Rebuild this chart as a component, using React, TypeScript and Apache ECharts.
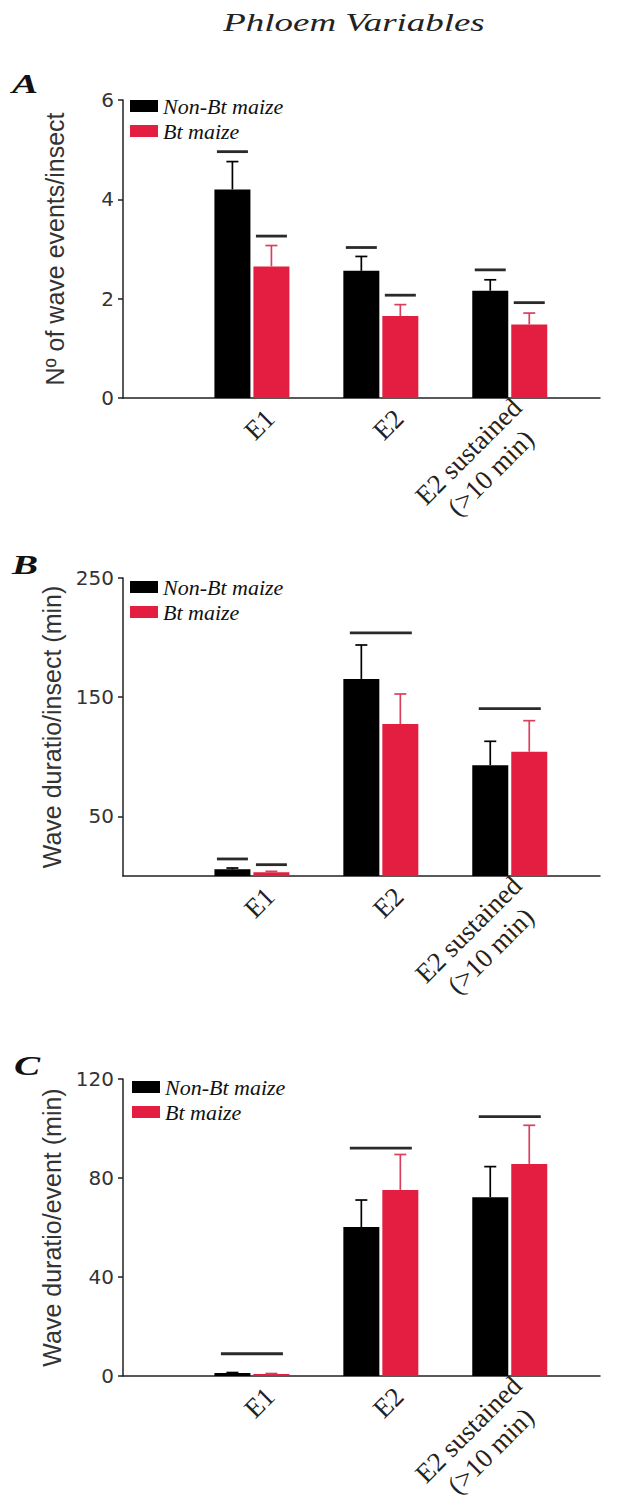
import React, { useEffect, useRef } from 'react';
import * as echarts from 'echarts';

// ---------- data ----------
const categories = ['E1', 'E2', 'E2 sustained\n(>10 min)\u00a0\u00a0'];
const catPositions = [1, 2, 3];
const seriesNames = ['Non-Bt maize', 'Bt maize'];

// Panel A: Nº of wave events/insect
const eventsNonBt = [4.2, 2.56, 2.16];
const eventsNonBtErr = [4.76, 2.85, 2.38];
const eventsBt = [2.65, 1.65, 1.48];
const eventsBtErr = [3.07, 1.88, 1.71];
// [category position, y, which: 0 non-Bt, 1 Bt, 2 both]
const eventsSig = [[1, 4.96, 0], [1, 3.26, 1], [2, 3.03, 0], [2, 2.07, 1], [3, 2.58, 0], [3, 1.92, 1]];
const eventsTicks = [0, 2, 4, 6];

// Panel B: Wave duratio/insect (min)
const durInsNonBt = [5.6, 165.3, 92.9];
const durInsNonBtErr = [6.7, 193.8, 113.0];
const durInsBt = [3.1, 127.5, 104.3];
const durInsBtErr = [3.9, 152.7, 130.3];
const durInsSig = [[1, 14.3, 0], [1, 9.5, 1], [2, 203.9, 2], [3, 140.4, 2]];
const durInsTicks = [50, 150, 250];

// Panel C: Wave duratio/event (min)
const durEvNonBt = [1.2, 60.2, 72.2];
const durEvNonBtErr = [1.4, 71.1, 84.6];
const durEvBt = [0.8, 75.2, 85.7];
const durEvBtErr = [1.0, 89.5, 101.3];
const durEvSig = [[1, 9.0, 2], [2, 92.1, 2], [3, 104.8, 2]];
const durEvTicks = [0, 40, 80, 120];

const yNames = ['Nº of wave events/insect', 'Wave duratio/insect (min)', 'Wave duratio/event (min)'];
const panelLetters = ['A', 'B', 'C'];
const chartTitle = 'Phloem Variables';

// ---------- styles ----------
const BLACK = '#000000';
const RED = '#E31E41';
const RED_ERR = '#D8405E';
const BAR_W = 36;
const BAR_GAP = 3;
const OFFSET = (BAR_W + BAR_GAP) / 2;
const X_MAX = 3.7;
const LABEL_SHIFT = 0.14;

const grids = [
  { left: 123, top: 100, width: 477, height: 298 },
  { left: 123, top: 578, width: 477, height: 298 },
  { left: 123, top: 1079, width: 477, height: 297 },
];
const legendPos = [
  { left: 130, top: 95 },
  { left: 130, top: 576 },
  { left: 132, top: 1076 },
];
const letterPos = [
  { x: 12, y: 84 },
  { x: 12, y: 565 },
  { x: 14, y: 1066 },
];

function errRender(side: number, color: string) {
  return (params: any, api: any) => {
    const x = api.value(0);
    const m = api.value(1);
    const e = api.value(2);
    const p0 = api.coord([x, m]);
    const p1 = api.coord([x, e]);
    const cx = p0[0] + side * OFFSET;
    const style = { stroke: color, lineWidth: 1.7 };
    return {
      type: 'group',
      children: [
        { type: 'line', shape: { x1: cx, y1: p0[1], x2: cx, y2: p1[1] }, style },
        { type: 'line', shape: { x1: cx - 6, y1: p1[1], x2: cx + 6, y2: p1[1] }, style },
      ],
    };
  };
}

function sigRender(params: any, api: any) {
  const x = api.value(0);
  const y = api.value(1);
  const which = api.value(2);
  const p = api.coord([x, y]);
  let cx = p[0];
  let half = 31;
  if (which === 0) { cx -= OFFSET; half = 15.5; }
  else if (which === 1) { cx += OFFSET; half = 15.5; }
  return {
    type: 'line',
    shape: { x1: cx - half, y1: p[1], x2: cx + half, y2: p[1] },
    style: { stroke: '#2a2a2a', lineWidth: 2.8 },
  };
}

const panels = [
  { nb: eventsNonBt, nbE: eventsNonBtErr, bt: eventsBt, btE: eventsBtErr, sig: eventsSig, ticks: eventsTicks, max: 6 },
  { nb: durInsNonBt, nbE: durInsNonBtErr, bt: durInsBt, btE: durInsBtErr, sig: durInsSig, ticks: durInsTicks, max: 250 },
  { nb: durEvNonBt, nbE: durEvNonBtErr, bt: durEvBt, btE: durEvBtErr, sig: durEvSig, ticks: durEvTicks, max: 120 },
];

function buildOption() {
  const xAxis: any[] = [];
  const yAxis: any[] = [];
  const series: any[] = [];
  const legend: any[] = [];
  const graphic: any[] = [];

  panels.forEach((p, i) => {
    xAxis.push({
      type: 'value',
      gridIndex: i,
      min: 0,
      max: X_MAX,
      axisLine: { show: true, lineStyle: { color: '#222', width: 1.5 } },
      axisTick: { show: false },
      splitLine: { show: false },
      axisLabel: {
        customValues: catPositions.map((c) => c + LABEL_SHIFT),
        formatter: (v: number) => {
          const idx = catPositions.indexOf(Math.round(v));
          return idx >= 0 ? categories[idx] : '';
        },
        rotate: 45,
        margin: 16,
        fontFamily: 'Liberation Serif',
        fontSize: 27,
        lineHeight: 31,
        color: '#222',
      },
    });
    yAxis.push({
      type: 'value',
      gridIndex: i,
      min: 0,
      max: p.max,
      name: yNames[i],
      nameLocation: 'middle',
      nameGap: 56,
      nameTextStyle: { fontFamily: 'Liberation Sans', fontSize: 25, color: '#333' },
      axisLine: { show: true, lineStyle: { color: '#222', width: 1.5 } },
      axisTick: { show: true, length: 5, lineStyle: { color: '#222', width: 1.5 }, customValues: p.ticks },
      splitLine: { show: false },
      axisLabel: {
        customValues: p.ticks,
        margin: 9,
        fontFamily: 'DejaVu Sans',
        fontSize: 20,
        color: '#333',
      },
    });
    series.push({
      type: 'bar',
      name: seriesNames[0],
      xAxisIndex: i,
      yAxisIndex: i,
      barWidth: BAR_W,
      barGap: (BAR_GAP / BAR_W * 100).toFixed(1) + '%',
      itemStyle: { color: BLACK },
      data: catPositions.map((c, k) => [c, p.nb[k]]),
    });
    series.push({
      type: 'bar',
      name: seriesNames[1],
      xAxisIndex: i,
      yAxisIndex: i,
      barWidth: BAR_W,
      barGap: (BAR_GAP / BAR_W * 100).toFixed(1) + '%',
      itemStyle: { color: RED },
      data: catPositions.map((c, k) => [c, p.bt[k]]),
    });
    series.push({
      type: 'custom',
      name: 'errNonBt' + i,
      xAxisIndex: i,
      yAxisIndex: i,
      z: 3,
      renderItem: errRender(-1, BLACK),
      encode: { x: 0, y: [1, 2] },
      data: catPositions.map((c, k) => [c, p.nb[k], p.nbE[k]]),
    });
    series.push({
      type: 'custom',
      name: 'errBt' + i,
      xAxisIndex: i,
      yAxisIndex: i,
      z: 3,
      renderItem: errRender(1, RED_ERR),
      encode: { x: 0, y: [1, 2] },
      data: catPositions.map((c, k) => [c, p.bt[k], p.btE[k]]),
    });
    series.push({
      type: 'custom',
      name: 'sig' + i,
      xAxisIndex: i,
      yAxisIndex: i,
      z: 3,
      renderItem: sigRender,
      encode: { x: 0, y: 1 },
      data: p.sig,
    });
    legend.push({
      left: legendPos[i].left,
      top: legendPos[i].top,
      orient: 'vertical',
      padding: 0,
      itemWidth: 28,
      itemHeight: 12,
      itemGap: 3,
      selectedMode: false,
      textStyle: { fontFamily: 'Liberation Serif', fontStyle: 'italic', fontSize: 22, color: '#111', lineHeight: 20 },
      data: seriesNames.map((n) => ({ name: n, icon: 'rect' })),
    });
    graphic.push({
      type: 'text',
      x: letterPos[i].x,
      y: letterPos[i].y,
      scaleX: 1.45,
      style: {
        text: panelLetters[i],
        fontFamily: 'Liberation Serif',
        fontStyle: 'italic',
        fontWeight: 'bold',
        fontSize: 27,
        fill: '#111',
        textAlign: 'left',
        textVerticalAlign: 'middle',
      },
    });
  });

  graphic.push({
    type: 'text',
    x: 354,
    y: 22,
    scaleX: 1.42,
    style: {
      text: chartTitle,
      fontFamily: 'Liberation Serif',
      fontStyle: 'italic',
      fontSize: 26,
      fill: '#222',
      textAlign: 'center',
      textVerticalAlign: 'middle',
    },
  });

  return {
    animation: false,
    backgroundColor: '#ffffff',
    grid: grids.map((g) => ({ ...g, outerBoundsMode: 'none', containLabel: false })),
    xAxis,
    yAxis,
    legend,
    series,
    graphic,
  };
}

export default function App() {
  const ref = useRef<HTMLDivElement>(null);
  useEffect(() => {
    document.body.style.margin = '0';
    if (!ref.current) return;
    const chart = echarts.init(ref.current, null, { renderer: 'svg' });
    chart.setOption(buildOption() as any);
    return () => chart.dispose();
  }, []);
  return <div ref={ref} style={{ width: 630, height: 1500 }} />;
}
